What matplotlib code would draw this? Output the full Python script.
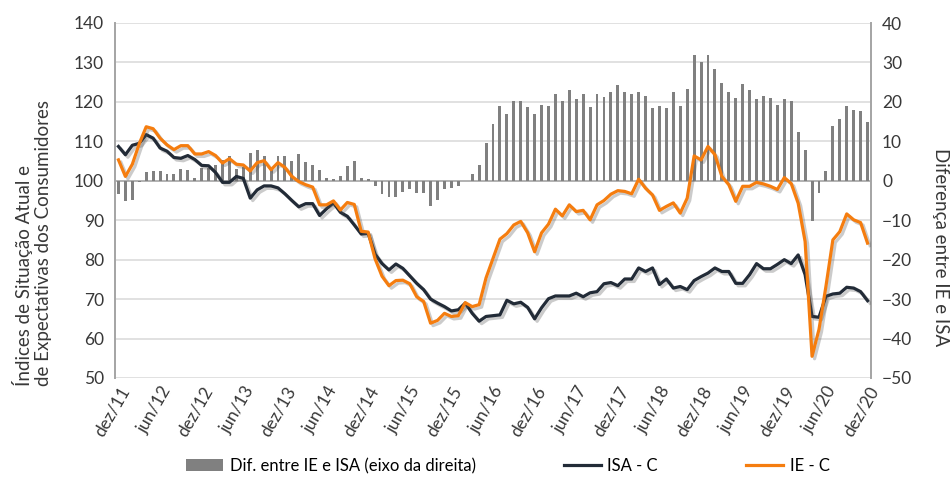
import matplotlib
matplotlib.use("Agg")
import matplotlib.pyplot as plt
import matplotlib.patheffects as pe
from matplotlib.patches import Patch
from matplotlib.lines import Line2D
import numpy as np

plt.rcParams['font.family'] = ['Lato', 'DejaVu Sans']

# Monthly data, dez/11 .. dez/20 (109 months)
isa_c = [108.7, 106.6, 109.0, 109.5, 111.7, 110.8, 108.3, 107.5, 105.9, 105.7,
         106.4, 105.4, 103.9, 103.8, 102.1, 99.6, 99.6, 101.1, 100.6, 95.6,
         97.7, 98.7, 98.7, 98.2, 96.7, 95.0, 93.4, 94.2, 94.2, 91.2,
         92.9, 94.4, 92.0, 91.0, 88.8, 86.5, 86.7, 81.4, 79.0, 77.4,
         78.9, 77.8, 75.9, 74.0, 72.4, 70.0, 69.0, 68.1, 67.0, 67.3,
         69.0, 66.4, 64.4, 65.6, 65.8, 66.0, 69.7, 68.8, 69.2, 67.9,
         65.0, 67.8, 70.1, 70.8, 70.8, 70.8, 71.5, 70.6, 71.6, 71.9,
         73.9, 74.2, 73.4, 75.1, 75.1, 77.9, 77.0, 77.9, 73.7, 75.1,
         72.8, 73.2, 72.4, 74.7, 75.7, 76.6, 77.9, 77.0, 77.0, 74.0,
         74.0, 76.2, 79.0, 77.7, 77.7, 78.8, 80.0, 79.0, 81.2, 76.2,
         65.6, 65.4, 70.7, 71.3, 71.5, 73.0, 72.8, 71.9, 69.6]

ie_c = [105.3, 101.1, 104.2, 109.4, 113.7, 113.2, 110.8, 109.1, 107.9, 108.9,
        108.9, 106.8, 106.8, 107.4, 106.4, 104.5, 105.6, 104.2, 104.0, 102.5,
        104.6, 105.1, 102.8, 104.6, 103.4, 101.1, 99.8, 99.0, 98.4, 93.9,
        93.9, 94.9, 92.6, 94.5, 94.0, 87.2, 87.0, 80.2, 75.8, 73.4,
        74.7, 74.8, 73.9, 70.6, 69.4, 63.9, 64.6, 66.4, 65.6, 65.8,
        69.1, 68.1, 68.6, 75.4, 80.3, 85.2, 86.6, 88.8, 89.7, 86.8,
        82.0, 86.8, 89.0, 92.8, 91.1, 93.9, 92.2, 92.5, 90.1, 93.9,
        95.0, 96.6, 97.5, 97.3, 96.7, 100.4, 98.1, 96.4, 92.5, 93.5,
        94.4, 91.8, 95.6, 106.3, 105.3, 108.7, 106.6, 101.1, 99.0, 94.8,
        98.6, 98.6, 99.6, 99.2, 98.6, 97.8, 100.8, 99.3, 94.3, 84.6,
        55.5, 62.3, 73.2, 85.0, 87.1, 91.6, 90.1, 89.4, 84.2]

dif = [-3.4, -5.2, -4.8, -0.3, 2.1, 2.4, 2.6, 1.8, 1.8, 3.0,
       2.8, 0.7, 3.2, 3.2, 4.0, 5.3, 6.2, 3.0, 3.6, 7.0,
       7.7, 6.4, 3.2, 6.2, 6.2, 5.1, 6.8, 4.7, 4.0, 2.8,
       0.7, 0.4, 1.1, 3.8, 5.1, 0.7, 0.4, -1.4, -3.4, -4.1,
       -4.1, -2.9, -2.2, -3.2, -3.0, -6.5, -4.8, -2.2, -1.8, -1.4,
       0.0, 1.8, 4.1, 9.7, 14.4, 19.0, 17.0, 20.3, 20.3, 18.6,
       17.0, 19.2, 19.0, 22.0, 20.3, 23.0, 20.7, 22.0, 18.6, 22.0,
       21.3, 22.6, 24.3, 22.4, 22.0, 22.4, 21.4, 18.4, 19.0, 18.4,
       22.4, 19.0, 23.3, 31.9, 30.2, 31.9, 28.3, 24.7, 22.4, 20.9,
       24.6, 22.9, 20.7, 21.6, 20.9, 19.2, 20.7, 20.3, 12.3, 7.7,
       -10.3, -3.1, 2.4, 14.0, 15.7, 19.0, 18.0, 17.7, 15.0]

tick_labels = ['dez/11', 'jun/12', 'dez/12', 'jun/13', 'dez/13', 'jun/14', 'dez/14',
               'jun/15', 'dez/15', 'jun/16', 'dez/16', 'jun/17', 'dez/17', 'jun/18',
               'dez/18', 'jun/19', 'dez/19', 'jun/20', 'dez/20']

x = np.arange(len(isa_c))

W, H = 952, 478
fig = plt.figure(figsize=(W / 100, H / 100), dpi=100)
ax = fig.add_axes([115 / W, 1 - 378 / H, (871 - 115) / W, (378 - 23) / H])
ax2 = ax.twinx()

TXT = '#383838'

# bars on the right axis (behind)
ax2.bar(x, dif, width=0.42, color='#808080', zorder=2)
ax2.set_ylim(-50, 40)
ax2.set_yticks(np.arange(-50, 41, 10))
ax2.yaxis.grid(True, color='#D9D9D9', linewidth=1.1, zorder=0)
ax2.set_axisbelow(True)
ax2.axhline(0, color='#A6A6A6', linewidth=1.1, zorder=1)

# lines on the left axis (front)
ax.set_zorder(ax2.get_zorder() + 1)
ax.patch.set_visible(False)
shadow = [pe.SimpleLineShadow(offset=(1.8, -1.8), shadow_color='#555555', alpha=0.3), pe.Normal()]
ax.plot(x, isa_c, color='#222B37', linewidth=2.3, solid_joinstyle='round',
        path_effects=shadow, zorder=3)
ax.plot(x, ie_c, color='#F57D0F', linewidth=2.3, solid_joinstyle='round',
        path_effects=shadow, zorder=4)
ax.set_ylim(50, 140)
ax.set_yticks(np.arange(50, 141, 10))
ax.set_xlim(-0.5, 108.5)

ax.set_xticks(np.arange(0, len(x), 6))
ax.set_xticklabels(tick_labels, rotation=60, ha='right', va='top',
                   rotation_mode='anchor', fontsize=12.5, color=TXT)
ax.tick_params(axis='x', length=0, pad=4)
ax.tick_params(axis='y', length=0, pad=8, labelsize=12.5, labelcolor=TXT)
ax2.tick_params(axis='y', length=0, pad=8, labelsize=12.5, labelcolor=TXT)
ax2.tick_params(axis='x', length=0)

for a in (ax, ax2):
    a.spines['top'].set_visible(False)
    a.spines['bottom'].set_visible(False)
    a.spines['left'].set_color('#A6A6A6')
    a.spines['right'].set_color('#A6A6A6')
    a.spines['left'].set_linewidth(1.3)
    a.spines['right'].set_linewidth(1.3)

fig.text(32 / W, 1 - 386 / H, 'Índices de Situação Atual e\nde Expectativas dos Consumidores',
         rotation=90, ha='center', va='bottom', multialignment='left',
         fontsize=13.5, color=TXT, linespacing=1.1)
fig.text(941 / W, 1 - 247 / H, 'Diferença entre IE e ISA', rotation=270,
         ha='center', va='center', fontsize=13.5, color=TXT)

handles = [Patch(facecolor='#808080', edgecolor='none'),
           Line2D([], [], color='#222B37', linewidth=2.3),
           Line2D([], [], color='#F57D0F', linewidth=2.3)]
labels = ['Dif. entre IE e ISA (eixo da direita)', 'ISA - C', 'IE - C']
fig.legend(handles, labels, loc='center', bbox_to_anchor=(508 / W, 1 - 466 / H),
           ncol=3, frameon=False, fontsize=12, columnspacing=5.3,
           handlelength=2.2, handletextpad=0.4, labelcolor='#000000')

fig.savefig('out.png', dpi=100)
